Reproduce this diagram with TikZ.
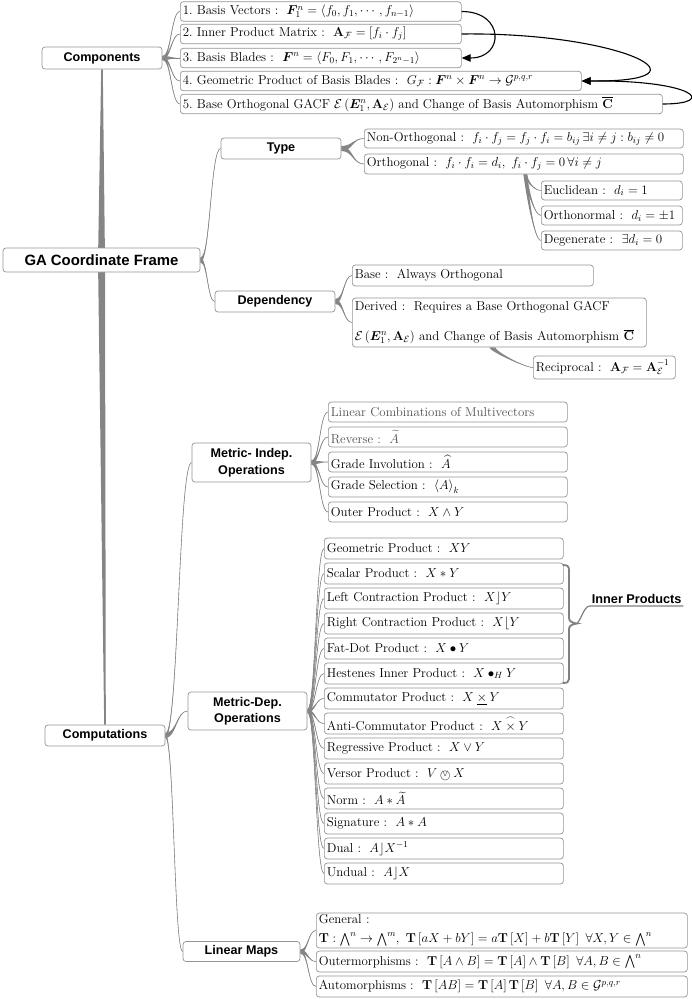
\RequirePackage{fix-cm}
\documentclass[tikz,border=0pt]{standalone}
\usepackage{amsmath,amssymb,bm}
\usepackage{graphicx}
\usepackage[no-math]{fontspec}
\newfontfamily\hfont{Liberation Sans}
\usetikzlibrary{arrows.meta,calc}
\pgfdeclarelayer{bg}
\pgfsetlayers{bg,main}
\newcommand{\vprod}{\mathbin{\ooalign{\raisebox{-0.12ex}{\scalebox{0.8}{$\bigcirc$}}\cr\hidewidth\raisebox{0.32ex}{$\scriptstyle\vee$}\hidewidth\cr}}}
\newcommand{\acprod}{\mathbin{\overset{\frown}{\times}}}
\newcommand{\br}[3][2]{%
  \fill[brfill] let \p1=(#2), \p2=(#3), \p3=($(#2)!0.5!(#3)$) in
    (\x1,\y1+#1) .. controls (\x3,\y1+#1) and (\x3,\y2) .. (\x2,\y2)
    .. controls (\x3,\y2) and (\x3,\y1-#1) .. (\x1,\y1-#1) -- cycle;
  \draw[brline] let \p1=(#2), \p2=(#3), \p3=($(#2)!0.5!(#3)$) in
    (\p1) .. controls (\x3,\y1) and (\x3,\y2) .. (\p2);}
\newcommand{\vbr}[3][2]{%
  \fill[brfill] let \p1=(#2), \p2=(#3) in
    (\x1-#1,\y1) .. controls (\x1-#1,\y1-4) and (\x2-8,\y2) .. (\x2,\y2)
    .. controls (\x2-8,\y2) and (\x1+#1,\y1-4) .. (\x1+#1,\y1) -- cycle;
  \draw[brline] let \p1=(#2), \p2=(#3) in
    (\p1) .. controls (\x1,\y1-4) and (\x2-8,\y2) .. (\p2);}
\begin{document}
\begin{tikzpicture}[x=1pt,y=-1pt,
  box/.style={draw=black!42, line width=0.7pt, rounded corners=3pt, fill=white,
    inner xsep=2.5pt, inner ysep=0pt, anchor=west, font=\fontsize{12.9}{15.5}\selectfont},
  sw/.style={minimum width=#1pt,
    execute at begin node={\hbox to \dimexpr#1pt-5pt\relax\bgroup},
    execute at end node={\hfil\egroup}},
  header/.style={draw=black!42, line width=0.7pt, rounded corners=3pt, fill=white,
    inner sep=0pt, align=center, font=\hfont\bfseries\fontsize{12.6}{16.5}\selectfont},
  brfill/.style={fill=black!48},
  brline/.style={draw=black!48, line width=0.6pt},
  arr/.style={draw=black, line width=1.1pt, -{Triangle[length=9pt,width=7.5pt]}},
  bracestyle/.style={draw=black!50, line width=1.8pt},
  gray text/.style={text=black!68}]
\useasboundingbox (0,0) rectangle (692,999);

% ---------- headers
\node[header, minimum width=197pt, minimum height=24pt,
      font=\hfont\bfseries\fontsize{14.9}{18}\selectfont] (ga) at (101.5,260) {GA Coordinate Frame};
\node[header, minimum width=120pt, minimum height=22pt] (comp) at (102,58) {Components};
\node[header, minimum width=120pt, minimum height=21pt] (type) at (281,148.5) {Type};
\node[header, minimum width=120pt, minimum height=21pt] (dep) at (275,301.5) {Dependency};
\node[header, minimum width=120pt, minimum height=21pt] (compu) at (105,735.5) {Computations};
\node[header, minimum width=119pt, minimum height=39pt] (mi) at (251.5,462.5) {Metric- Indep.\\Operations};
\node[header, minimum width=119pt, minimum height=38pt] (md) at (247.5,711) {Metric-Dep.\\Operations};
\node[header, minimum width=117pt, minimum height=20pt] (lm) at (241.5,951.5) {Linear Maps};

% ---------- components
\node[box, sw=281, minimum height=19.5pt] (c1) at (180,11.5) {1.~Basis Vectors :~~$\bm{F}_1^n = \left\langle f_0, f_1, \cdots, f_{n-1}\right\rangle$};
\node[box, sw=281, minimum height=19.5pt] (c2) at (180,34) {2.~Inner Product Matrix :~~$\mathbf{A}_{\mathcal{F}} = \left[f_i\cdot f_j\right]$};
\node[box, sw=281, minimum height=19.5pt] (c3) at (180,58) {3.~Basis Blades :~~$\bm{F}^n = \left\langle F_0, F_1, \cdots, F_{2^n-1}\right\rangle$};
\node[box, sw=401, minimum height=19.5pt] (c4) at (180,81) {4.~Geometric Product of Basis Blades :~~$G_{\mathcal{F}} : \bm{F}^n \times \bm{F}^n \to \mathcal{G}^{p,q,r}$};
\node[box, sw=482, minimum height=19.5pt] (c5) at (180,104) {5.~Base Orthogonal GACF $\mathcal{E}\left(\bm{E}_1^n, \mathbf{A}_{\mathcal{E}}\right)$ and Change of Basis Automorphism $\overline{\mathbf{C}}$};

% ---------- type
\node[box, sw=319, minimum height=19pt] (no) at (364,138.5) {Non-Orthogonal :~~$f_i\cdot f_j = f_j\cdot f_i = b_{ij}\,\exists i\neq j : b_{ij}\neq 0$};
\node[box, sw=319, minimum height=20pt] (or) at (364,164) {Orthogonal :~~$f_i\cdot f_i = d_i,\ f_i\cdot f_j = 0\,\forall i\neq j$};
\node[box, sw=141, minimum height=19pt] (eu) at (541,190.5) {Euclidean :~~$d_i = 1$};
\node[box, sw=141, minimum height=19pt] (on) at (541,215.5) {Orthonormal :~~$d_i = \pm 1$};
\node[box, sw=141, minimum height=19pt] (de) at (541,240.5) {Degenerate :~~$\exists d_i = 0$};

% ---------- dependency
\node[box, sw=241, minimum height=21pt] (base) at (352,275.5) {Base :~~Always Orthogonal};
\node[box, text width=289pt, align=left, minimum height=49pt] (der) at (352,322.5)
  {Derived :~~Requires a Base Orthogonal GACF\\[14.5pt]\mbox{$\mathcal{E}\left(\bm{E}_1^n, \mathbf{A}_{\mathcal{E}}\right)$ and Change of Basis Automorphism $\overline{\mathbf{C}}$}};
\node[box, sw=142, minimum height=23pt] (rec) at (533,367.5) {Reciprocal :~~$\mathbf{A}_{\mathcal{F}} = \mathbf{A}_{\mathcal{E}}^{-1}$};

% ---------- metric independent
\node[box, sw=239, minimum height=20pt, gray text] (i0) at (328,412) {Linear Combinations of Multivectors};
\node[box, sw=239, minimum height=20pt, gray text] (i1) at (328,437) {Reverse :~~$\widetilde{A}$};
\node[box, sw=239, minimum height=20pt] (i2) at (328,462) {Grade Involution :~~$\widehat{A}$};
\node[box, sw=239, minimum height=20pt] (i3) at (328,487) {Grade Selection :~~$\left\langle A\right\rangle_k$};
\node[box, sw=239, minimum height=20pt] (i4) at (328,512) {Outer Product :~~$X\wedge Y$};

% ---------- metric dependent
\node[box, sw=239, minimum height=21pt] (m0) at (324,548.5) {Geometric Product :~~$XY$};
\node[box, sw=239, minimum height=21pt] (m1) at (324,573.5) {Scalar Product :~~$X*Y$};
\node[box, sw=239, minimum height=21pt] (m2) at (324,598.5) {Left Contraction Product :~~$X\rfloor Y$};
\node[box, sw=239, minimum height=21pt] (m3) at (324,623.5) {Right Contraction Product :~~$X\lfloor Y$};
\node[box, sw=239, minimum height=21pt] (m4) at (324,648.5) {Fat-Dot Product :~~$X\bullet Y$};
\node[box, sw=239, minimum height=21pt] (m5) at (324,673.5) {Hestenes Inner Product :~~$X\mathbin{\bullet_{H}}Y$};
\node[box, sw=239, minimum height=21pt] (m6) at (324,698.5) {Commutator Product :~~$X\mathbin{\underline{\times}}Y$};
\node[box, sw=239, minimum height=21pt] (m7) at (324,723.5) {Anti-Commutator Product :~~$X\acprod Y$};
\node[box, sw=239, minimum height=21pt] (m8) at (324,748.5) {Regressive Product :~~$X\vee Y$};
\node[box, sw=239, minimum height=21pt] (m9) at (324,773.5) {Versor Product :~~$V\vprod X$};
\node[box, sw=239, minimum height=21pt] (m10) at (324,798.5) {Norm :~~$A*\widetilde{A}$};
\node[box, sw=239, minimum height=21pt] (m11) at (324,823.5) {Signature :~~$A*A$};
\node[box, sw=239, minimum height=21pt] (m12) at (324,848.5) {Dual :~~$A\rfloor X^{-1}$};
\node[box, sw=239, minimum height=21pt] (m13) at (324,873.5) {Undual :~~$A\rfloor X$};

% ---------- inner products label
\node[anchor=south west, minimum width=93pt, inner xsep=0pt, inner ysep=2pt,
      font=\hfont\bfseries\fontsize{12.7}{15}\selectfont] (ip) at (590,606) {Inner Products};
\coordinate (iptip) at (577,623.5);

% ---------- linear maps
\node[box, text width=366pt, align=left, minimum height=35pt] (gen) at (316,930.5)
  {General :\\[3.5pt]\mbox{$\mathbf{T} : \bigwedge^n \to \bigwedge^m ,\ \mathbf{T}\left[aX+bY\right] = a\mathbf{T}\left[X\right] + b\mathbf{T}\left[Y\right]\ \forall X,Y \in \bigwedge^n$}};
\node[box, sw=371, minimum height=21pt] (out) at (316,961.5) {Outermorphisms :~~$\mathbf{T}\left[A\wedge B\right] = \mathbf{T}\left[A\right]\wedge\mathbf{T}\left[B\right]\ \forall A,B\in\bigwedge^n$};
\node[box, sw=371, minimum height=21pt] (aut) at (316,986.5) {Automorphisms :~~$\mathbf{T}\left[AB\right] = \mathbf{T}\left[A\right]\mathbf{T}\left[B\right]\ \forall A,B\in\mathcal{G}^{p,q,r}$};

% ---------- connectors
\begin{pgfonlayer}{bg}
  \fill[brfill] ($(comp.south)+(-0.8,0)$) -- ($(ga.center)+(-3.5,0)$) -- ($(compu.north)+(-0.8,0)$)
     -- ($(compu.north)+(0.8,0)$) -- ($(ga.center)+(3.5,0)$) -- ($(comp.south)+(0.8,0)$) -- cycle;
  \foreach \k in {1,...,5} {\br{comp.east}{c\k.west}}
  \br[2.5]{ga.east}{type.west}
  \br[2.5]{ga.east}{dep.west}
  \br[2.5]{type.east}{no.west}
  \br[2.5]{type.east}{or.west}
  \vbr[1.8]{[xshift=1.5pt]or.south}{eu.west}
  \vbr[1.8]{[xshift=1.5pt]or.south}{on.west}
  \vbr[1.8]{[xshift=1.5pt]or.south}{de.west}
  \br[2.5]{dep.east}{base.west}
  \br[2.5]{dep.east}{der.west}
  \vbr[3]{[xshift=-7pt]der.south}{rec.west}
  \br[2.5]{compu.east}{mi.west}
  \br[2.5]{compu.east}{md.west}
  \br[2.5]{compu.east}{lm.west}
  \foreach \k in {0,...,4} {\br{mi.east}{i\k.west}}
  \foreach \k in {0,...,13} {\br[1.6]{md.east}{m\k.west}}
  \br{lm.east}{gen.west}
  \br{lm.east}{out.west}
  \br{lm.east}{aut.west}
\end{pgfonlayer}

% ---------- brace of inner products
\draw[bracestyle] (563,565) .. controls (567,565) and (569,566) .. (569,570) -- (569,618)
  .. controls (569,621) and (572,623) .. (iptip)
  .. controls (572,624) and (569,626) .. (569,629) -- (569,679)
  .. controls (569,682) and (567,683) .. (563,683);
\draw[draw=black!50, line width=1.2pt] (iptip) .. controls (582,618) and (584,606) .. (ip.south west) -- (ip.south east);

% ---------- arrows
\draw[arr] (c1.east) .. controls +(43,0) and +(43,0) .. (c3.east);
\draw[arr] (c2.east) .. controls +(159,-2) and +(139,1) .. (c4.east);
\draw[arr] (c5.east) .. controls +(55,0) and +(114,-1) .. (c4.east);
\end{tikzpicture}
\end{document}
